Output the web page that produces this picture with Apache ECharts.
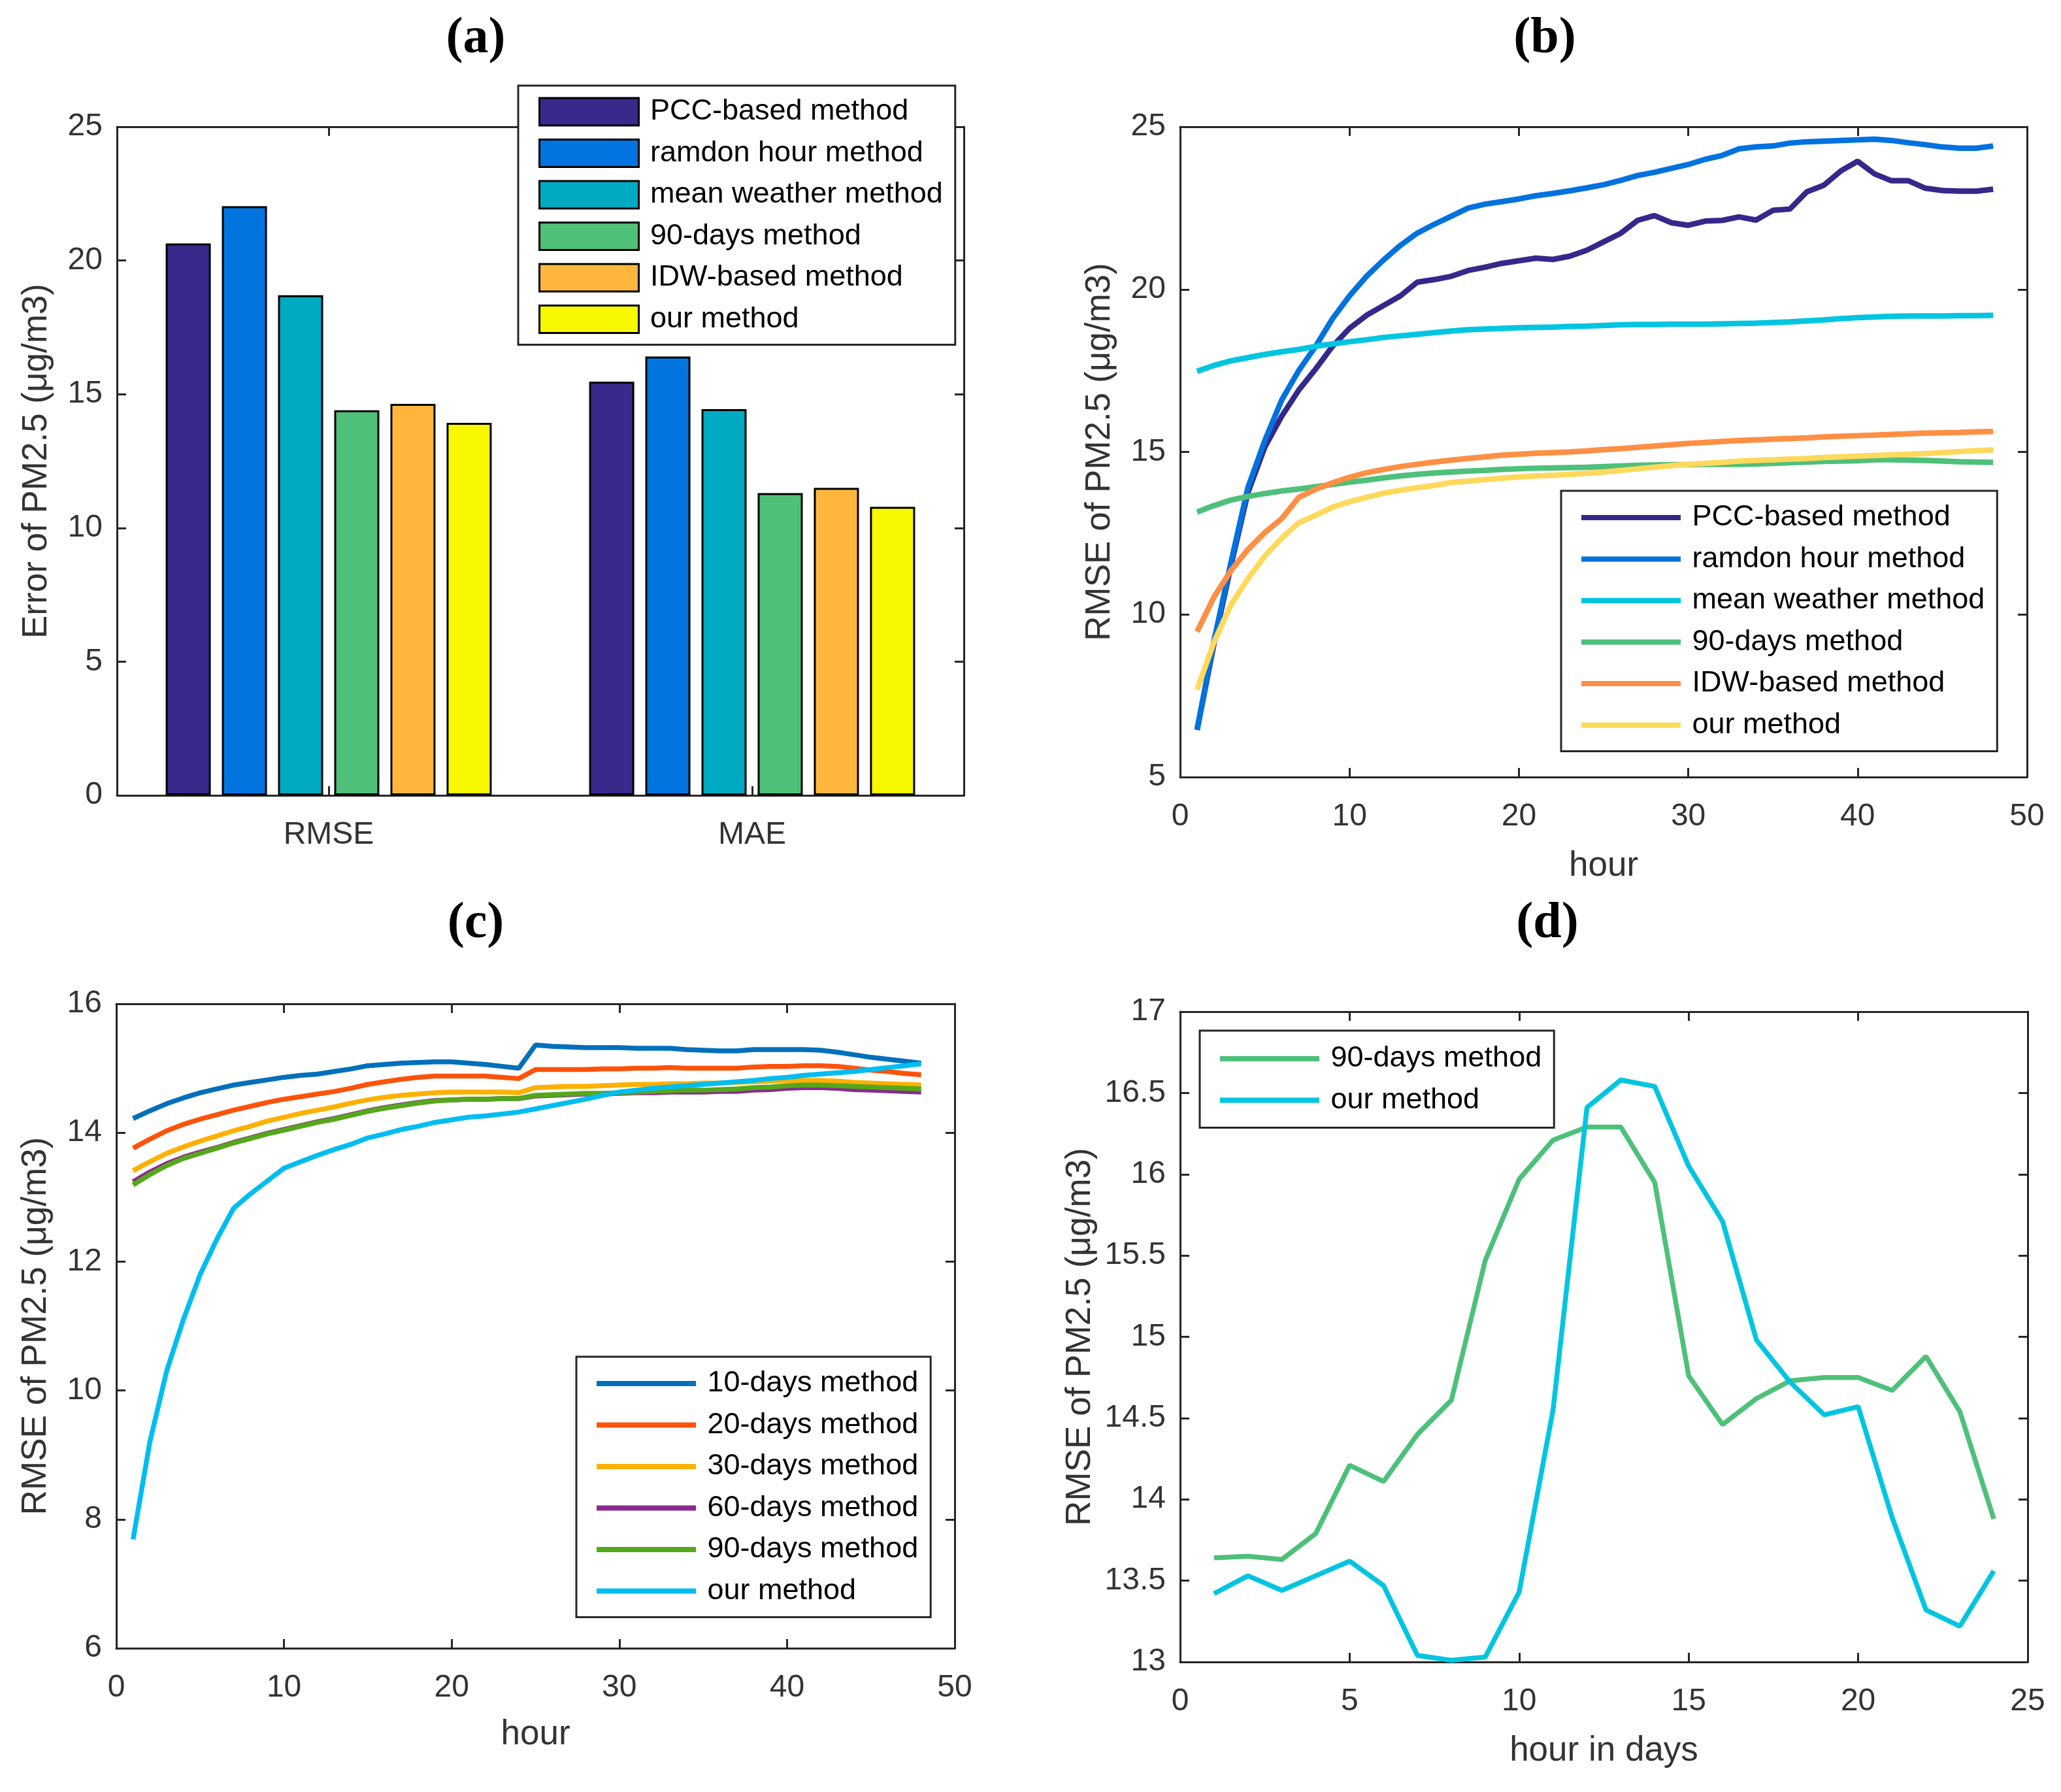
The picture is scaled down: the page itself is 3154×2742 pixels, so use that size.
<!DOCTYPE html>
<html>
<head>
<meta charset="utf-8">
<title>PM2.5 error comparison</title>
<script src="https://cdn.jsdelivr.net/npm/echarts@6/dist/echarts.min.js"></script>
<style>
html, body { margin: 0; padding: 0; background: #fff; }
#page { position: relative; width: 3154px; height: 2742px; }
.panel { position: absolute; width: 1577px; height: 1371px; }
</style>
</head>
<body>
<div id="page">
	<div class="panel" id="pa" style="left:0;top:0"></div>
	<div class="panel" id="pb" style="left:1577px;top:0"></div>
	<div class="panel" id="pc" style="left:0;top:1371px"></div>
	<div class="panel" id="pd" style="left:1577px;top:1371px"></div>
</div>
<script>
// ---- data ----
var barCategories = ['RMSE', 'MAE'];
var barPcc = [20.64, 15.47];
var barRamdon = [22.03, 16.41];
var barMeanWeather = [18.70, 14.44];
var bar90days = [14.40, 11.30];
var barIdw = [14.64, 11.50];
var barOur = [13.93, 10.79];

var hours = [1,2,3,4,5,6,7,8,9,10,11,12,13,14,15,16,17,18,19,20,21,22,23,24,
	25,26,27,28,29,30,31,32,33,34,35,36,37,38,39,40,41,42,43,44,45,46,47,48];

// panel (b)
var bPcc = [6.45,9.1,11.5,13.75,15.15,16.1,16.9,17.55,18.25,18.8,19.2,19.5,19.8,20.22,20.3,20.4,20.58,20.68,20.8,20.88,20.96,20.92,21.02,21.2,
	21.46,21.72,22.12,22.27,22.05,21.97,22.1,22.12,22.23,22.13,22.43,22.47,23.0,23.2,23.64,23.94,23.55,23.34,23.34,23.11,23.04,23.02,23.02,23.08];
var bRamdon = [6.45,9.2,11.6,13.9,15.35,16.6,17.5,18.25,19.1,19.8,20.4,20.9,21.35,21.73,22.0,22.25,22.5,22.62,22.7,22.78,22.88,22.95,23.03,23.12,
	23.22,23.35,23.5,23.6,23.72,23.84,24.0,24.12,24.32,24.38,24.41,24.5,24.54,24.56,24.58,24.6,24.62,24.58,24.51,24.45,24.38,24.34,24.34,24.41];
var bMeanWeather = [17.48,17.66,17.8,17.9,18.0,18.08,18.15,18.25,18.32,18.39,18.45,18.52,18.57,18.62,18.67,18.72,18.76,18.78,18.8,18.82,18.83,18.84,18.86,18.87,
	18.89,18.91,18.92,18.92,18.93,18.93,18.93,18.94,18.95,18.96,18.98,19.0,19.03,19.06,19.1,19.13,19.15,19.17,19.18,19.18,19.18,19.19,19.19,19.2];
var b90days = [13.15,13.35,13.52,13.63,13.72,13.8,13.86,13.93,14.0,14.07,14.13,14.2,14.26,14.31,14.35,14.38,14.41,14.43,14.46,14.48,14.5,14.51,14.52,14.53,
	14.55,14.57,14.59,14.6,14.61,14.61,14.62,14.62,14.62,14.63,14.65,14.67,14.69,14.71,14.72,14.73,14.76,14.76,14.75,14.74,14.72,14.7,14.69,14.68];
var bIdw = [9.47,10.54,11.35,12.0,12.52,12.95,13.6,13.85,14.05,14.22,14.36,14.46,14.55,14.62,14.69,14.75,14.8,14.85,14.9,14.93,14.96,14.98,15.0,15.03,
	15.07,15.1,15.14,15.18,15.22,15.26,15.29,15.32,15.35,15.37,15.39,15.41,15.43,15.46,15.48,15.5,15.52,15.54,15.56,15.58,15.59,15.6,15.62,15.63];
var bOur = [7.69,9.15,10.3,11.1,11.8,12.35,12.82,13.05,13.3,13.47,13.6,13.73,13.82,13.9,13.97,14.06,14.1,14.15,14.19,14.23,14.26,14.28,14.31,14.34,
	14.38,14.43,14.48,14.53,14.58,14.62,14.65,14.68,14.72,14.74,14.76,14.78,14.8,14.83,14.85,14.87,14.89,14.91,14.93,14.95,14.98,15.01,15.04,15.06];

// panel (c)
var c10days = [14.22,14.34,14.45,14.54,14.62,14.68,14.74,14.78,14.82,14.86,14.89,14.91,14.95,14.99,15.04,15.06,15.08,15.09,15.1,15.1,15.08,15.06,15.03,15.0,
	15.36,15.34,15.33,15.32,15.32,15.32,15.31,15.31,15.31,15.29,15.28,15.27,15.27,15.29,15.29,15.29,15.29,15.28,15.25,15.21,15.17,15.14,15.11,15.08];
var c20days = [13.76,13.9,14.03,14.13,14.21,14.28,14.35,14.41,14.47,14.52,14.56,14.6,14.64,14.69,14.75,14.79,14.83,14.86,14.88,14.88,14.88,14.88,14.86,14.84,
	14.98,14.98,14.98,14.98,14.99,14.99,15.0,15.0,15.01,15.0,15.0,15.0,15.0,15.02,15.03,15.03,15.04,15.04,15.03,15.0,14.97,14.95,14.92,14.9];
var c30days = [13.41,13.55,13.68,13.78,13.87,13.95,14.03,14.1,14.18,14.24,14.3,14.35,14.4,14.46,14.51,14.55,14.58,14.6,14.62,14.63,14.63,14.63,14.63,14.62,
	14.7,14.71,14.72,14.72,14.73,14.74,14.75,14.75,14.76,14.76,14.77,14.77,14.78,14.79,14.8,14.81,14.81,14.81,14.8,14.78,14.77,14.76,14.75,14.74];
var c60days = [13.24,13.39,13.52,13.62,13.7,13.77,13.85,13.92,13.99,14.05,14.11,14.17,14.22,14.28,14.34,14.39,14.43,14.47,14.5,14.51,14.52,14.52,14.53,14.53,
	14.57,14.58,14.59,14.6,14.6,14.61,14.62,14.62,14.63,14.63,14.63,14.64,14.64,14.66,14.67,14.69,14.7,14.7,14.69,14.67,14.66,14.65,14.64,14.63];
var c90days = [13.19,13.35,13.49,13.6,13.68,13.76,13.84,13.91,13.98,14.04,14.1,14.16,14.21,14.27,14.33,14.38,14.42,14.46,14.49,14.51,14.52,14.52,14.53,14.53,
	14.58,14.59,14.6,14.61,14.61,14.62,14.63,14.64,14.65,14.66,14.66,14.67,14.68,14.7,14.71,14.73,14.74,14.74,14.73,14.72,14.71,14.7,14.69,14.68];
var cOur = [7.69,9.2,10.3,11.1,11.8,12.35,12.83,13.05,13.25,13.45,13.55,13.65,13.74,13.82,13.92,13.98,14.05,14.1,14.16,14.2,14.24,14.26,14.29,14.32,
	14.37,14.42,14.47,14.52,14.58,14.63,14.66,14.69,14.71,14.73,14.75,14.77,14.79,14.81,14.84,14.86,14.89,14.91,14.93,14.95,14.98,15.01,15.04,15.07];

// panel (d)
var dayHours = [1,2,3,4,5,6,7,8,9,10,11,12,13,14,15,16,17,18,19,20,21,22,23,24];
var d90days = [13.64,13.65,13.63,13.79,14.21,14.11,14.4,14.61,15.47,15.97,16.21,16.29,16.29,15.95,14.76,14.46,14.62,14.73,14.75,14.75,14.67,14.88,14.54,13.88];
var dOur = [13.42,13.53,13.44,13.53,13.62,13.47,13.04,13.01,13.03,13.43,14.55,16.41,16.58,16.54,16.05,15.71,14.98,14.72,14.52,14.57,13.89,13.32,13.22,13.56];

// ---- style helpers ----
var FONT = '"Liberation Sans", Arial, sans-serif';
var SERIF = '"Liberation Serif", "Times New Roman", serif';
var INK = '#262626';
var TXT = '#333333';

function pairs(xs, ys) {
	return xs.map(function (x, i) { return [x, ys[i]]; });
}

function frameAxis(extra) {
	var ax = {
		axisLine: { show: true, onZero: false, lineStyle: { color: INK, width: 3 } },
		axisTick: { show: true, inside: true, length: 14, lineStyle: { color: INK, width: 3 } },
		splitLine: { show: false },
		axisLabel: { show: false },
		nameLocation: 'middle',
		nameTextStyle: { fontSize: 53, color: TXT, fontFamily: FONT }
	};
	for (var k in extra) ax[k] = extra[k];
	return ax;
}

function tickLabels(margin) {
	return { show: true, margin: margin, fontSize: 48, color: TXT, fontFamily: FONT };
}

function valueAxes(min, max, interval, name, nameGap, isX) {
	var main = frameAxis({ type: 'value', min: min, max: max, interval: interval,
		position: isX ? 'bottom' : 'left', axisLabel: tickLabels(isX ? 37 : 22),
		name: name, nameGap: nameGap });
	var twin = frameAxis({ type: 'value', min: min, max: max, interval: interval,
		position: isX ? 'top' : 'right' });
	return [main, twin];
}

function panelTitle(text, x, y) {
	return [{
		type: 'text', x: x, y: y, silent: true,
		style: { text: text, font: 'bold 78px ' + SERIF, fill: '#000',
			align: 'center', verticalAlign: 'middle', textAlign: 'center', textVerticalAlign: 'middle' }
	}];
}

// items: list of {name, color}; bars get a bordered box icon, lines a thin strip
function legendBox(left, top, padTop, items, isBar) {
	return {
		orient: 'vertical', left: left, top: top,
		padding: [padTop, 19, padTop - 1, 31],
		itemWidth: 152, itemHeight: isBar ? 42 : 8, itemGap: 18.5,
		icon: 'rect',
		selectedMode: false,
		backgroundColor: '#fff', borderColor: INK, borderWidth: 3, borderRadius: 0,
		formatter: function (n) { return ' ' + n; },
		textStyle: { fontSize: 45, color: '#000', fontFamily: FONT },
		data: items.map(function (it) {
			return {
				name: it.name,
				itemStyle: isBar
					? { color: it.color, borderColor: '#000', borderWidth: 3 }
					: { color: it.color, borderWidth: 0 }
			};
		})
	};
}

function lineSeries(name, color, xs, ys, width) {
	return {
		name: name, type: 'line', data: pairs(xs, ys),
		symbol: 'none', showSymbol: false, smooth: false,
		lineStyle: { color: color, width: width },
		itemStyle: { color: color },
		xAxisIndex: 0, yAxisIndex: 0
	};
}

// ---- (a) grouped bars ----
var barNames = ['PCC-based method', 'ramdon hour method', 'mean weather method', '90-days method', 'IDW-based method', 'our method'];
var barColors = ['#372a8a', '#0274e0', '#00aac2', '#4fc077', '#feb73c', '#f8f800'];
var barValues = [barPcc, barRamdon, barMeanWeather, bar90days, barIdw, barOur];

var chartA = echarts.init(document.getElementById('pa'));
chartA.setOption({
	animation: false,
	graphic: panelTitle('(a)', 728, 60),
	grid: { left: 179, top: 194, width: 1296, height: 1023 },
	legend: legendBox(793, 131, 17.5, barNames.map(function (n, i) { return { name: n, color: barColors[i] }; }), true),
	xAxis: [
		frameAxis({ type: 'category', data: barCategories, position: 'bottom',
			axisTick: { show: true, inside: true, alignWithLabel: true, length: 14, lineStyle: { color: INK, width: 3 } },
			axisLabel: tickLabels(37) }),
		frameAxis({ type: 'category', data: barCategories, position: 'top',
			axisTick: { show: true, inside: true, alignWithLabel: true, length: 14, lineStyle: { color: INK, width: 3 } } })
	],
	yAxis: valueAxes(0, 25, 5, 'Error of PM2.5 (μg/m3)', 96, false),
	series: barNames.map(function (n, i) {
		return {
			name: n, type: 'bar', data: barValues[i],
			barWidth: 69, barGap: '24.6%',
			itemStyle: { color: barColors[i], borderColor: '#000', borderWidth: 3 },
			xAxisIndex: 0, yAxisIndex: 0
		};
	})
});

// ---- (b) hourly RMSE of all methods ----
var bColors = ['#35288b', '#0072de', '#00c5e0', '#4ec07a', '#ff8f44', '#ffd95c'];
var bValues = [bPcc, bRamdon, bMeanWeather, b90days, bIdw, bOur];
var chartB = echarts.init(document.getElementById('pb'));
chartB.setOption({
	animation: false,
	graphic: panelTitle('(b)', 787, 60),
	grid: { left: 229, top: 194, width: 1296, height: 995 },
	legend: legendBox(812, 751, 18.5, barNames.map(function (n, i) { return { name: n, color: bColors[i] }; }), false),
	xAxis: valueAxes(0, 50, 10, 'hour', 110, true),
	yAxis: valueAxes(5, 25, 5, 'RMSE of PM2.5 (μg/m3)', 96, false),
	series: barNames.map(function (n, i) { return lineSeries(n, bColors[i], hours, bValues[i], 8.5); })
});

// ---- (c) window length comparison ----
var cNames = ['10-days method', '20-days method', '30-days method', '60-days method', '90-days method', 'our method'];
var cColors = ['#0070bb', '#ff520a', '#ffb000', '#8a2a90', '#55a81a', '#00bdf0'];
var cValues = [c10days, c20days, c30days, c60days, c90days, cOur];
var chartC = echarts.init(document.getElementById('pc'));
chartC.setOption({
	animation: false,
	graphic: panelTitle('(c)', 728, 43),
	grid: { left: 178, top: 165, width: 1283, height: 986 },
	legend: legendBox(882, 705, 18.5, cNames.map(function (n, i) { return { name: n, color: cColors[i] }; }), false),
	xAxis: valueAxes(0, 50, 10, 'hour', 106, true),
	yAxis: valueAxes(6, 16, 2, 'RMSE of PM2.5 (μg/m3)', 96, false),
	series: cNames.map(function (n, i) { return lineSeries(n, cColors[i], hours, cValues[i], 7.5); })
});

// ---- (d) hour in days ----
var dNames = ['90-days method', 'our method'];
var dColors = ['#4ec07a', '#00c5e0'];
var chartD = echarts.init(document.getElementById('pd'));
chartD.setOption({
	animation: false,
	graphic: panelTitle('(d)', 791, 43),
	grid: { left: 229, top: 177, width: 1297, height: 995 },
	legend: legendBox(259, 206, 20.5, dNames.map(function (n, i) { return { name: n, color: dColors[i] }; }), false),
	xAxis: valueAxes(0, 25, 5, 'hour in days', 110, true),
	yAxis: valueAxes(13, 17, 0.5, 'RMSE of PM2.5 (μg/m3)', 96, false),
	series: [
		lineSeries('90-days method', dColors[0], dayHours, d90days, 7.5),
		lineSeries('our method', dColors[1], dayHours, dOur, 7.5)
	]
});
</script>
</body>
</html>
